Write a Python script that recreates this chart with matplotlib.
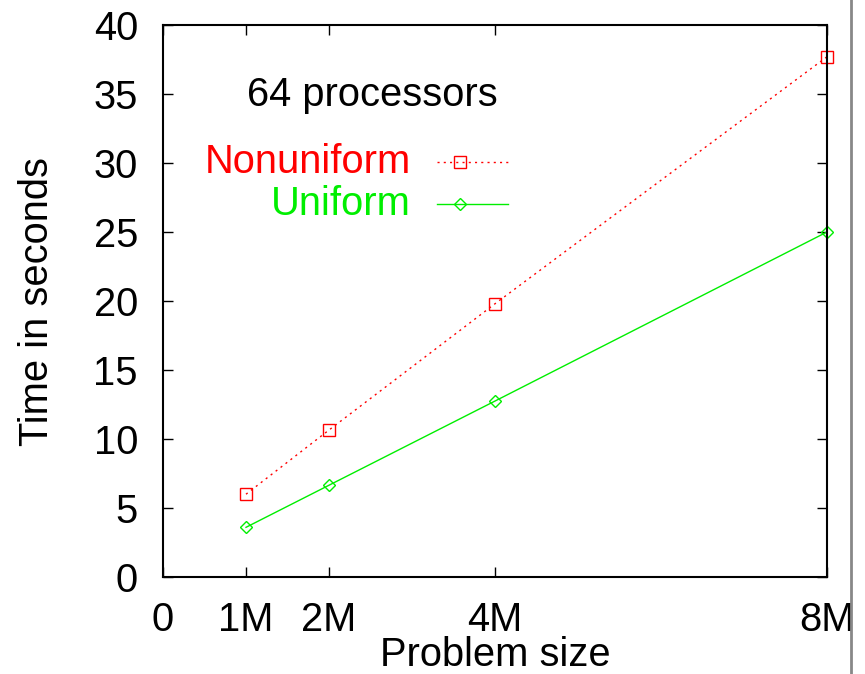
import matplotlib
matplotlib.use("Agg")
import matplotlib.pyplot as plt
from matplotlib.lines import Line2D

plt.rcParams['font.family'] = ['Liberation Sans', 'DejaVu Sans']

sizes = [1, 2, 4, 8]
xtick_vals = [0, 1, 2, 4, 8]
xtick_labels = ['0', '1M', '2M', '4M', '8M']
ytick_vals = [0, 5, 10, 15, 20, 25, 30, 35, 40]
nonuniform = [6.0, 10.65, 19.8, 37.7]
uniform = [3.6, 6.65, 12.75, 25.0]

FS = 28.7
W, H = 865, 674
fig = plt.figure(figsize=(W/100, H/100), dpi=100)
ax = fig.add_axes([163/W, 1-577/H, (827-163)/W, (577-25)/H])

ax.plot(sizes, nonuniform, color='#ff0000', linestyle=(0, (1.5, 3)), linewidth=1,
        marker='s', markersize=8, markerfacecolor='none', markeredgecolor='#ff0000',
        markeredgewidth=1, clip_on=False)
ax.plot(sizes, uniform, color='#00ee00', linestyle='-', linewidth=1,
        marker='D', markersize=6, markerfacecolor='none', markeredgecolor='#00ee00',
        markeredgewidth=1, clip_on=False)

ax.set_xlim(0, 8)
ax.set_ylim(0, 40)
ax.set_xticks(xtick_vals)
ax.set_xticklabels(xtick_labels)
ax.set_yticks(ytick_vals)
ax.tick_params(direction='in', length=7, width=1, labelsize=FS, top=True, right=True)
ax.tick_params(axis='y', pad=18)
ax.tick_params(axis='x', pad=17)
for s in ax.spines.values():
    s.set_linewidth(1.5)

ax.set_xlabel('Problem size', fontsize=FS, labelpad=-2)
ax.set_ylabel('Time in seconds', fontsize=FS, labelpad=27)

def px2data(xp, yp):
    return (xp-163)/83.0, (577-yp)/13.8

tx, ty = px2data(372, 95)
ax.text(tx, ty, '64 processors', fontsize=FS, ha='center', va='center')

# legend (manual, gnuplot style)
for label, yp, color, ls, mk, ms in [('Nonuniform', 162, '#ff0000', (0, (1.5, 3)), 's', 8),
                                     ('Uniform', 204, '#00ee00', '-', 'D', 6)]:
    tx, ty = px2data(411, yp)
    ax.text(tx, ty, label, color=color, fontsize=FS, ha='right', va='center')
    x0, y0 = px2data(437, yp)
    x1, _ = px2data(508, yp)
    xm, _ = px2data(460, yp)
    ax.plot([x0, x1], [y0, y0], color=color, linestyle=ls, linewidth=1)
    ax.plot([xm], [y0], marker=mk, markersize=ms, markerfacecolor='none',
            markeredgecolor=color, markeredgewidth=1, linestyle='none')

fig.add_artist(Line2D([851/W, 851/W], [0, 1], color='#888888', linewidth=2))

fig.savefig('out.png', dpi=100)
